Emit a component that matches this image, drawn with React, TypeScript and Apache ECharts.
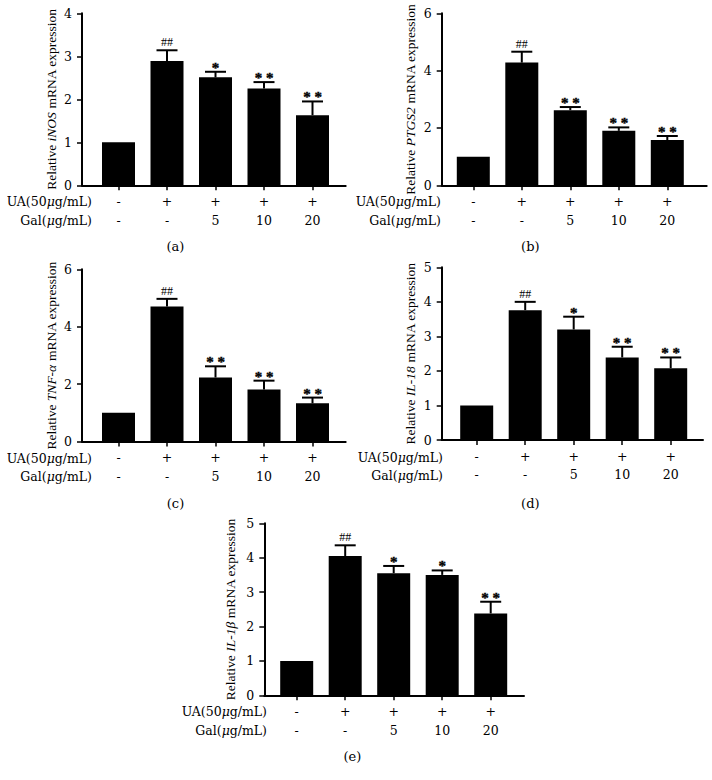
import React, { useEffect, useRef } from "react";
import * as echarts from "echarts";

// ---- data ----
const uaRow = ["-", "+", "+", "+", "+"];
const galRow = ["-", "-", "5", "10", "20"];

const inosMean = [1, 2.89, 2.51, 2.25, 1.63];
const inosSem = [0, 0.25, 0.13, 0.15, 0.32];
const inosSig = ["", "##", "*", "**", "**"];

const ptgs2Mean = [1, 4.28, 2.62, 1.9, 1.58];
const ptgs2Sem = [0, 0.38, 0.11, 0.12, 0.14];
const ptgs2Sig = ["", "##", "**", "**", "**"];

const tnfMean = [1, 4.7, 2.23, 1.81, 1.33];
const tnfSem = [0, 0.27, 0.39, 0.31, 0.2];
const tnfSig = ["", "##", "**", "**", "**"];

const il18Mean = [1, 3.76, 3.2, 2.39, 2.08];
const il18Sem = [0, 0.24, 0.37, 0.31, 0.31];
const il18Sig = ["", "##", "*", "**", "**"];

const il1bMean = [1, 4.05, 3.55, 3.5, 2.38];
const il1bSem = [0, 0.31, 0.21, 0.13, 0.34];
const il1bSig = ["", "##", "*", "*", "**"];

const yMaxes = [4, 6, 6, 5, 5];
const yIntervals = [1, 2, 2, 1, 1];
const genes = ["iNOS", "PTGS2", "TNF-α", "IL-18", "IL-1β"];
const panelLabels = ["(a)", "(b)", "(c)", "(d)", "(e)"];

const means = [inosMean, ptgs2Mean, tnfMean, il18Mean, il1bMean];
const sems = [inosSem, ptgs2Sem, tnfSem, il18Sem, il1bSem];
const sigs = [inosSig, ptgs2Sig, tnfSig, il18Sig, il1bSig];

// ---- layout (pixels) ----
const SP = 48.5;
const layouts = [
  { ax: 82, top: 13.3, bottom: 185.3, right: 345.7, c0: 118.5, rowRight: 92, uaY: 201.7, galY: 220, nameX: 51.7, labX: 175.5, labY: 246 },
  { ax: 441.7, top: 13.3, bottom: 185.3, right: 706.7, c0: 473.3, rowRight: 441, uaY: 201, galY: 220, nameX: 410, labX: 530.3, labY: 246 },
  { ax: 82, top: 269.3, bottom: 441.5, right: 345.7, c0: 118.5, rowRight: 92, uaY: 458.3, galY: 476.7, nameX: 51.7, labX: 175.5, labY: 503 },
  { ax: 441.7, top: 267.3, bottom: 440, right: 703, c0: 476.7, rowRight: 443, uaY: 457.3, galY: 475.7, nameX: 410, labX: 530.3, labY: 503 },
  { ax: 264.3, top: 523.3, bottom: 695.3, right: 524, c0: 296.7, rowRight: 267, uaY: 711.7, galY: 730, nameX: 230, labX: 352.3, labY: 756 },
];

const SERIF = '"DejaVu Serif", serif';
const TIMES = '"Liberation Serif", serif';
const idx5 = [0, 1, 2, 3, 4];

function buildOption() {
  const grid: any[] = [];
  const xAxis: any[] = [];
  const yAxis: any[] = [];
  const series: any[] = [];
  const graphic: any[] = [];

  layouts.forEach((p, i) => {
    grid.push({ left: p.ax, top: p.top, width: p.right - p.ax, height: p.bottom - p.top, containLabel: false });
    xAxis.push({
      gridIndex: i,
      type: "value",
      min: (p.ax - p.c0) / SP,
      max: (p.right - p.c0) / SP,
      axisLine: { show: true, onZero: false, lineStyle: { color: "#000", width: 2 } },
      axisTick: { show: true, customValues: idx5, length: 5, lineStyle: { color: "#000", width: 1.5 } },
      axisLabel: {
        customValues: idx5,
        formatter: (v: number) => {
          const k = Math.round(v);
          return uaRow[k] + "\n" + galRow[k];
        },
        margin: 7,
        lineHeight: 18.5,
        fontSize: 12.5,
        fontFamily: SERIF,
        color: "#000",
      },
      splitLine: { show: false },
    });
    yAxis.push({
      gridIndex: i,
      type: "value",
      min: 0,
      max: yMaxes[i],
      interval: yIntervals[i],
      axisLine: { show: true, onZero: false, lineStyle: { color: "#000", width: 2 } },
      axisTick: { show: true, inside: false, length: 5, lineStyle: { color: "#000", width: 1.5 } },
      axisLabel: { margin: 10, fontSize: 12.5, fontFamily: SERIF, color: "#000" },
      splitLine: { show: false },
    });
    series.push({
      type: "bar",
      xAxisIndex: i,
      yAxisIndex: i,
      barWidth: 33,
      silent: true,
      itemStyle: { color: "#000" },
      data: means[i].map((v, k) => [k, v]),
    });
    const sigList = sigs[i];
    series.push({
      type: "custom",
      xAxisIndex: i,
      yAxisIndex: i,
      silent: true,
      itemStyle: { color: "#000" },
      data: means[i].map((v, k) => [k, v, +(v + sems[i][k]).toFixed(3)]),
      encode: { x: 0, y: [1, 2] },
      renderItem: (params: any, api: any) => {
        const x = api.value(0);
        const m = api.value(1);
        const t = api.value(2);
        const pb = api.coord([x, m]);
        const pt = api.coord([x, t]);
        const children: any[] = [];
        if (t > m) {
          children.push({
            type: "line",
            shape: { x1: pb[0], y1: pb[1], x2: pt[0], y2: pt[1] },
            style: { stroke: "#000", lineWidth: 2 },
          });
          children.push({
            type: "line",
            shape: { x1: pt[0] - 10.5, y1: pt[1], x2: pt[0] + 10.5, y2: pt[1] },
            style: { stroke: "#000", lineWidth: 2 },
          });
        }
        const s = sigList[params.dataIndex];
        if (s) {
          const isHash = s.indexOf("#") >= 0;
          children.push({
            type: "text",
            x: pt[0],
            y: pt[1] - (isHash ? 8 : 4),
            style: {
              text: isHash ? s : s.split("").join(" "),
              align: "center",
              verticalAlign: "middle",
              font: isHash ? "12px " + TIMES : "bold 15px " + TIMES,
              fill: "#000",
              stroke: "#000",
              lineWidth: isHash ? 0 : 0.4,
            },
          });
        }
        return { type: "group", children };
      },
      z: 3,
    });

    const rich = {
      n: { fontFamily: SERIF, fontSize: 12.5, color: "#000" },
      i: { fontFamily: SERIF, fontSize: 12.5, fontStyle: "italic", color: "#000" },
    };
    graphic.push({
      type: "text",
      x: p.rowRight,
      y: p.uaY,
      style: {
        text: "{n|UA(50}{i|μ}{n|g/mL)}",
        rich,
        align: "right",
        verticalAlign: "middle",
      },
    });
    graphic.push({
      type: "text",
      x: p.rowRight,
      y: p.galY,
      style: {
        text: "{n|Gal(}{i|μ}{n|g/mL)}",
        rich,
        align: "right",
        verticalAlign: "middle",
      },
    });
    const nrich = {
      n: { fontFamily: TIMES, fontSize: 13.5, color: "#000" },
      i: { fontFamily: TIMES, fontSize: 13.5, fontStyle: "italic", color: "#000" },
    };
    graphic.push({
      type: "text",
      x: p.nameX,
      y: (p.top + p.bottom) / 2,
      rotation: Math.PI / 2,
      style: {
        text: "{n|Relative }{i|" + genes[i] + "}{n| mRNA expression}",
        rich: nrich,
        align: "center",
        verticalAlign: "middle",
      },
    });
    graphic.push({
      type: "text",
      x: p.labX,
      y: p.labY,
      style: {
        text: panelLabels[i],
        font: "13px " + SERIF,
        fill: "#000",
        align: "center",
        verticalAlign: "middle",
      },
    });
  });

  return {
    animation: false,
    backgroundColor: "#fff",
    textStyle: { fontFamily: SERIF },
    grid,
    xAxis,
    yAxis,
    series,
    graphic,
  };
}

export default function App() {
  const ref = useRef<HTMLDivElement>(null);
  useEffect(() => {
    if (!ref.current) return;
    const chart = echarts.init(ref.current, undefined, { renderer: "svg" });
    chart.setOption(buildOption() as any);
    return () => chart.dispose();
  }, []);
  return (
    <div
      ref={ref}
      style={{ position: "absolute", left: 0, top: 0, width: 712, height: 780, background: "#fff" }}
    />
  );
}
